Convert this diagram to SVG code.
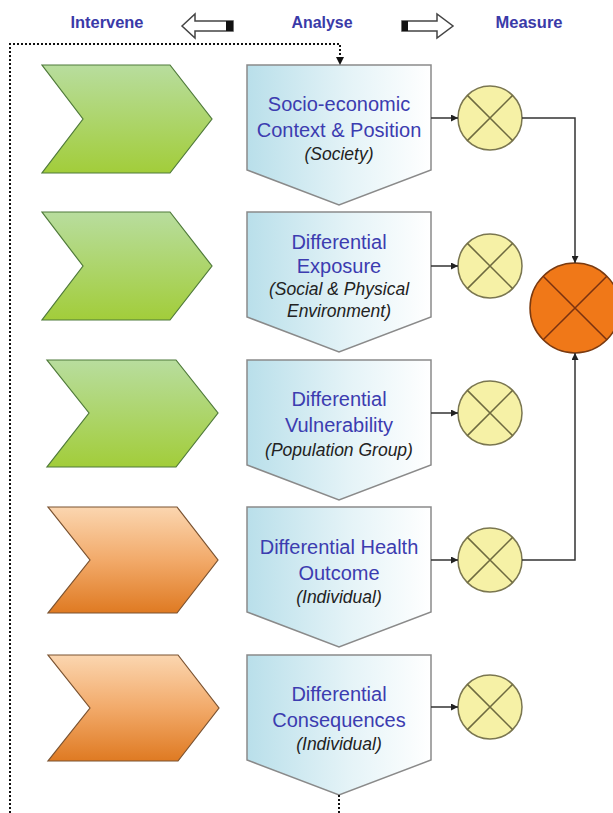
<svg xmlns="http://www.w3.org/2000/svg" width="613" height="813" viewBox="0 0 613 813">
<defs>
<linearGradient id="gGreen" x1="0" y1="0" x2="0" y2="1">
<stop offset="0" stop-color="#b8dd9e"/><stop offset="1" stop-color="#a2cd3a"/>
</linearGradient>
<linearGradient id="gOrange" x1="0" y1="0" x2="0" y2="1">
<stop offset="0" stop-color="#fbd6b0"/><stop offset="0.5" stop-color="#f2aa6a"/><stop offset="1" stop-color="#df7a22"/>
</linearGradient>
<linearGradient id="gBlue" x1="0" y1="0" x2="1" y2="0">
<stop offset="0" stop-color="#b9dfea"/><stop offset="0.55" stop-color="#e4f3f7"/><stop offset="1" stop-color="#ffffff"/>
</linearGradient>
<marker id="arr" viewBox="0 0 10 10" refX="10" refY="5" markerWidth="7" markerHeight="7" orient="auto" markerUnits="userSpaceOnUse">
<path d="M0,0 L10,5 L0,10 Z" fill="#222"/>
</marker>
<marker id="arrD" viewBox="0 0 10 10" refX="10" refY="5" markerWidth="8" markerHeight="8" orient="auto" markerUnits="userSpaceOnUse">
<path d="M0,0 L10,5 L0,10 Z" fill="#111"/>
</marker>
</defs>
<style>
.hdr{font-family:"Liberation Sans",Arial,sans-serif;font-weight:bold;font-size:16px;fill:#3a3aa8;text-anchor:middle}
.ttl{font-family:"Liberation Sans",Arial,sans-serif;font-size:20px;fill:#3c3cb0;text-anchor:middle}
.sub{font-family:"Liberation Sans",Arial,sans-serif;font-style:italic;font-size:17.5px;fill:#222;text-anchor:middle}
.green{fill:url(#gGreen);stroke:#4f7a3a;stroke-width:1.2}
.orange{fill:url(#gOrange);stroke:#7a5230;stroke-width:1.2}
.box{fill:url(#gBlue);stroke:#8a8a8a;stroke-width:1.5}
.sc{fill:#f6f1a6;stroke:#7a7650;stroke-width:1.5}
.sx{stroke:#6e6a40;stroke-width:1.5}
.bc{fill:#f07818;stroke:#7a3a10;stroke-width:1.5}
.bx{stroke:#7a3210;stroke-width:1.5}
.con{fill:none;stroke:#333;stroke-width:1.5}
.dot{fill:none;stroke:#111;stroke-width:2;stroke-dasharray:2,2}
.ha{fill:#fff;stroke:#444;stroke-width:1.5}
</style>

<g id="header">
<text class="hdr" x="107" y="28" textLength="73" lengthAdjust="spacingAndGlyphs">Intervene</text>
<text class="hdr" x="322" y="28" textLength="61" lengthAdjust="spacingAndGlyphs">Analyse</text>
<text class="hdr" x="529" y="28" textLength="67" lengthAdjust="spacingAndGlyphs">Measure</text>
<polygon class="ha" points="182,26 195,14 195,21 233,21 233,31 195,31 195,38"/>
<rect x="226" y="21" width="7" height="10" fill="#111"/>
<polygon class="ha" points="402,21 437,21 437,14 453,26 437,38 437,31 402,31"/>
<rect x="402" y="21" width="6" height="10" fill="#111"/>
</g>

<g id="chevron1"><path class="green" d="M42,65 L170,65 L212,119 L170,173 L42,173 L83,119 Z"/></g>
<g id="chevron2"><path class="green" d="M42,212 L170,212 L212,266 L170,320 L42,320 L83,266 Z"/></g>
<g id="chevron3"><path class="green" d="M47,360 L176,360 L218,413 L176,467 L47,467 L89,413 Z"/></g>
<g id="chevron4"><path class="orange" d="M48,507 L177,507 L218,560 L177,613 L48,613 L90,560 Z"/></g>
<g id="chevron5"><path class="orange" d="M48,655 L178,655 L219,708 L178,761 L48,761 L90,708 Z"/></g>

<g id="box1">
<path class="box" d="M247,65 L431,65 L431,170 L339,205 L247,170 Z"/>
<text class="ttl" x="339" y="111">Socio-economic</text>
<text class="ttl" x="339" y="137">Context &amp; Position</text>
<text class="sub" x="339" y="160">(Society)</text>
</g>
<g id="box2">
<path class="box" d="M247,212 L431,212 L431,317 L339,352 L247,317 Z"/>
<text class="ttl" x="339" y="249">Differential</text>
<text class="ttl" x="339" y="273">Exposure</text>
<text class="sub" x="339" y="295">(Social &amp; Physical</text>
<text class="sub" x="339" y="317">Environment)</text>
</g>
<g id="box3">
<path class="box" d="M247,360 L431,360 L431,465 L339,500 L247,465 Z"/>
<text class="ttl" x="339" y="406">Differential</text>
<text class="ttl" x="339" y="432">Vulnerability</text>
<text class="sub" x="339" y="456">(Population Group)</text>
</g>
<g id="box4">
<path class="box" d="M247,507 L431,507 L431,612 L339,647 L247,612 Z"/>
<text class="ttl" x="339" y="554">Differential Health</text>
<text class="ttl" x="339" y="580">Outcome</text>
<text class="sub" x="339" y="603">(Individual)</text>
</g>
<g id="box5">
<path class="box" d="M247,655 L431,655 L431,760 L339,795 L247,760 Z"/>
<text class="ttl" x="339" y="701">Differential</text>
<text class="ttl" x="339" y="727">Consequences</text>
<text class="sub" x="339" y="750">(Individual)</text>
</g>

<g id="measure1"><circle class="sc" cx="490" cy="118" r="32"/><path class="sx" d="M467.4,95.4 L512.6,140.6 M512.6,95.4 L467.4,140.6"/></g>
<g id="measure2"><circle class="sc" cx="490" cy="266" r="32"/><path class="sx" d="M467.4,243.4 L512.6,288.6 M512.6,243.4 L467.4,288.6"/></g>
<g id="measure3"><circle class="sc" cx="490" cy="413" r="32"/><path class="sx" d="M467.4,390.4 L512.6,435.6 M512.6,390.4 L467.4,435.6"/></g>
<g id="measure4"><circle class="sc" cx="490" cy="560" r="32"/><path class="sx" d="M467.4,537.4 L512.6,582.6 M512.6,537.4 L467.4,582.6"/></g>
<g id="measure5"><circle class="sc" cx="490" cy="707" r="32"/><path class="sx" d="M467.4,684.4 L512.6,729.6 M512.6,684.4 L467.4,729.6"/></g>

<g id="combined"><circle class="bc" cx="575" cy="308" r="45"/><path class="bx" d="M543.2,276.2 L606.8,339.8 M606.8,276.2 L543.2,339.8"/></g>

<g id="connectors">
<line class="con" x1="431" y1="118" x2="458" y2="118" marker-end="url(#arr)"/>
<line class="con" x1="431" y1="266" x2="458" y2="266" marker-end="url(#arr)"/>
<line class="con" x1="431" y1="413" x2="458" y2="413" marker-end="url(#arr)"/>
<line class="con" x1="431" y1="560" x2="458" y2="560" marker-end="url(#arr)"/>
<line class="con" x1="431" y1="707" x2="458" y2="707" marker-end="url(#arr)"/>
<path class="con" d="M522,118 H575 V263" marker-end="url(#arr)"/>
<path class="con" d="M522,560 H575 V353" marker-end="url(#arr)"/>
<path class="dot" d="M10,813 V44 H340 V65" marker-end="url(#arrD)"/>
<path class="dot" d="M339,795 V813"/>
</g>
</svg>
